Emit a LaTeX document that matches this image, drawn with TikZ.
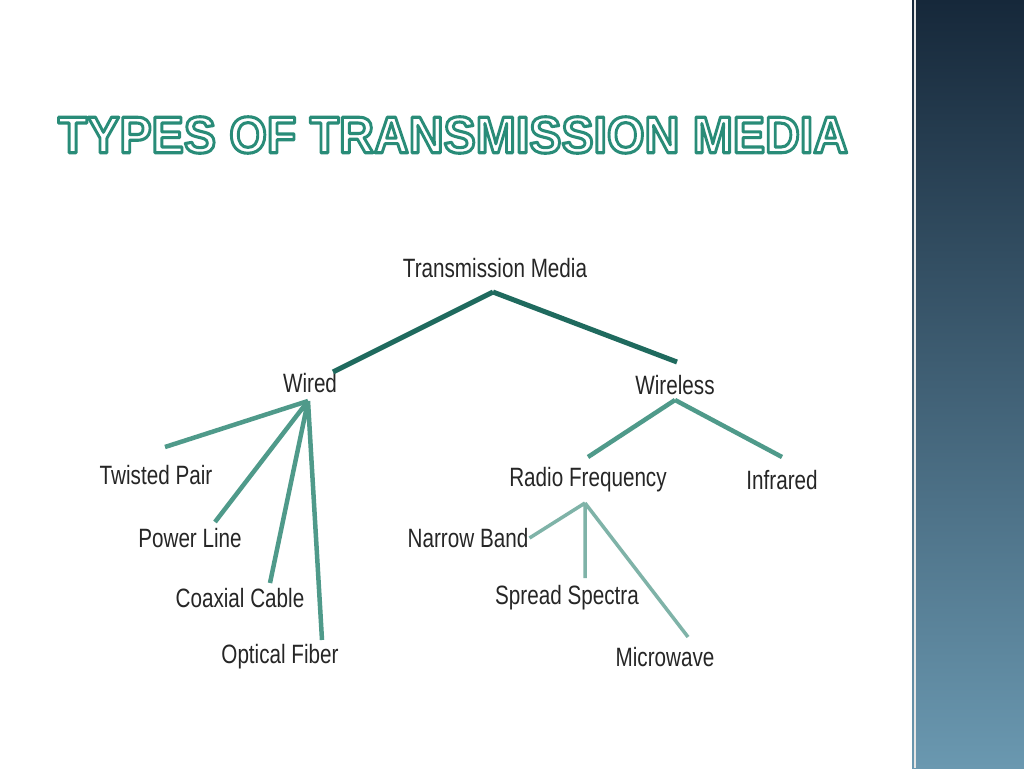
\documentclass[tikz,border=0pt]{standalone}
\usepackage{fontspec}
\usepackage{graphicx}
\newfontfamily\lab[FakeStretch=0.78]{Liberation Sans}
\newfontfamily\ttl{Liberation Sans}
\definecolor{dk}{HTML}{1F6A5E}
\definecolor{md}{HTML}{4F9A8A}
\definecolor{lt}{HTML}{7FB3A8}
\definecolor{ptop}{HTML}{16283A}
\definecolor{pbot}{HTML}{6A98B0}
\begin{document}
\begin{tikzpicture}[x=1pt,y=-1pt,
 lbl/.style={font=\lab\fontsize{26.5}{28}\selectfont,text=black!85,inner sep=1pt},
 e1/.style={draw=dk,line width=5pt},
 e2/.style={draw=md,line width=4.5pt},
 e3/.style={draw=lt,line width=3.5pt}]
\useasboundingbox (0,0) rectangle (1024,768);
\fill[white] (0,0) rectangle (1024,768);
\shade[top color=ptop,bottom color=pbot] (912,0) rectangle (1024,768);
\draw[white!80!gray,line width=1.5pt] (915,0) -- (915,768);
\node (title) at (453,135) {\resizebox{790pt}{36pt}{\special{pdf:code 2 Tr 1 j 0.6 w 0.16 0.55 0.47 RG 1 1 1 rg}\ttl\bfseries TYPES OF TRANSMISSION MEDIA\special{pdf:code 0 Tr 0 j}}};
\node[lbl] (tm) at (495,268) {Transmission Media};
\node[lbl] (wd) at (310,383) {Wired};
\node[lbl] (wl) at (675,385) {Wireless};
\node[lbl] (tp) at (156,475) {Twisted Pair};
\node[lbl] (pl) at (190,538) {Power Line};
\node[lbl] (cc) at (240,598) {Coaxial Cable};
\node[lbl] (of) at (280,657) {Optical Fiber};
\node[lbl] (rf) at (588,480) {Radio Frequency};
\node[lbl] (ir) at (782,480) {Infrared};
\node[lbl] (nb) at (468,538) {Narrow Band};
\node[lbl] (ss) at (567,598) {Spread Spectra};
\node[lbl] (mw) at (665,657) {Microwave};
\coordinate (j0) at (493,292);
\coordinate (j1) at (308,401);
\coordinate (j2) at (675,400);
\coordinate (j3) at (585,503);
\draw[e1] (j0) -- (333,372) (j0) -- (677,362);
\draw[e2] (j1) -- (165,447);
\draw[e2] (j1) -- (215,522) (j1) -- (270,583) (j1) -- (322,640);
\draw[e2] (j2) -- (588,457) (j2) -- (782,457);
\draw[e3] (j3) -- (nb.east) (j3) -- (585,578) (j3) -- (688,637);
\end{tikzpicture}
\end{document}
